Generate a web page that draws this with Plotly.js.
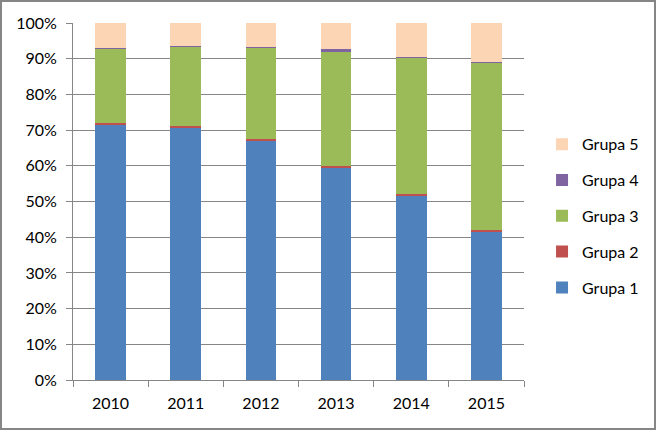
<!DOCTYPE html>
<html><head><meta charset="utf-8">
<script src="https://cdn.plot.ly/plotly-3.0.1.min.js"></script>
<style>
html,body{margin:0;padding:0;background:#fff;}
#wrap{position:relative;width:656px;height:430px;}
#chart{position:absolute;left:0;top:0;width:656px;height:430px;}
#frame{position:absolute;left:0;top:0;width:652px;height:426px;border:2px solid #868686;pointer-events:none;}
</style></head>
<body>
<div id="wrap"><div id="chart"></div><div id="frame"></div></div>
<script>
const years = ['2010','2011','2012','2013','2014','2015'];
const grupa1 = [71.3, 70.5, 66.9, 59.3, 51.6, 41.5];
const grupa2 = [0.7, 0.6, 0.6, 0.6, 0.6, 0.6];
const grupa3 = [20.6, 22.2, 25.5, 32.1, 38.0, 46.7];
const grupa4 = [0.4, 0.3, 0.3, 0.6, 0.3, 0.3];
const grupa5 = [7.0, 6.4, 6.7, 7.4, 9.5, 10.9];
const names = ['Grupa 1','Grupa 2','Grupa 3','Grupa 4','Grupa 5'];
const colors = ['#4f81bd','#c0504d','#9bbb59','#8064a2','#fcd5b5'];
const series = [grupa1, grupa2, grupa3, grupa4, grupa5];

const traces = series.map((vals, i) => ({
  type: 'bar', x: years, y: vals, name: names[i],
  marker: {color: colors[i], line: {width: 0}},
  legendgroup: 'g' + i,
  legendrank: 1000 - i,
  hoverinfo: 'none'
}));

const font = {family: 'Lato, "Open Sans", sans-serif', size: 16, color: '#000'};
const layout = {
  width: 656, height: 430,
  margin: {l: 73, r: 130, t: 23, b: 50},
  barmode: 'stack', barnorm: 'percent', bargap: 0.59,
  paper_bgcolor: '#fff', plot_bgcolor: '#fff',
  font: font,
  showlegend: true,
  legend: {x: 0.04, xref: 'paper', y: 0.46, xanchor: 'left', yanchor: 'middle', traceorder: 'grouped',
    tracegroupgap: 12, font: font, itemwidth: 30, bgcolor: 'rgba(0,0,0,0)'},
  xaxis: {type: 'category', tickson: 'boundaries', ticks: 'outside', ticklen: 6,
    tickcolor: '#868686', showline: true, linecolor: '#868686', linewidth: 1,
    showgrid: false, tickfont: font, ticklabelstandoff: 9},
  yaxis: {range: [0, 100], dtick: 10, ticksuffix: '%', ticks: 'outside', ticklen: 6,
    tickcolor: '#868686', showline: true, linecolor: '#868686', linewidth: 1,
    gridcolor: '#868686', gridwidth: 1, zeroline: false, tickfont: font, ticklabelstandoff: 6}
};
layout.legend.x = 1.04;
Plotly.newPlot('chart', traces, layout, {displayModeBar: false, staticPlot: true});
</script>
</body></html>
